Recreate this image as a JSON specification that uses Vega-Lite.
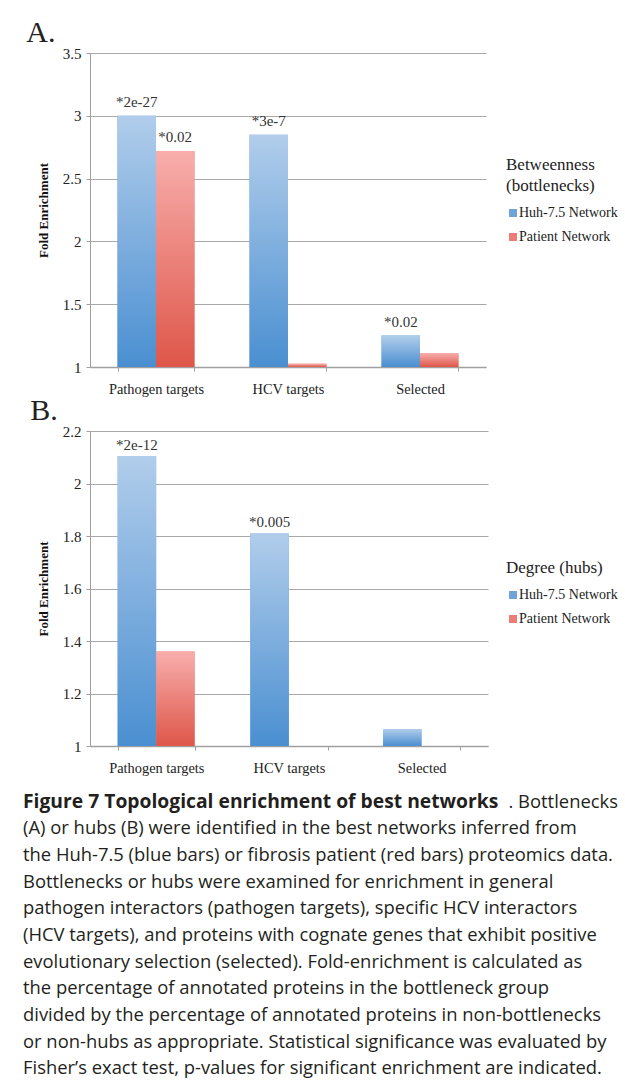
{
  "$schema": "https://vega.github.io/schema/vega-lite/v6.json",
  "background": "white",
  "padding": {"left": 23, "top": 18, "right": 4, "bottom": 4},
  "columns": 1,
  "align": "none",
  "spacing": 0,
  "config": {
    "view": {"stroke": null},
    "font": "Liberation Serif",
    "axis": {
      "labelFont": "Liberation Serif",
      "labelFontSize": 15,
      "labelColor": "#222222",
      "titleFont": "Liberation Serif",
      "titleFontSize": 13,
      "titleFontWeight": "bold",
      "titleColor": "#111111",
      "gridColor": "#a8a8a8",
      "gridOpacity": 1,
      "domainColor": "#a0a0a0",
      "domainWidth": 1.5,
      "tickColor": "#a0a0a0",
      "tickSize": 4
    },
    "legend": {
      "titleFont": "Liberation Serif",
      "titleFontSize": 17,
      "titleFontWeight": "normal",
      "titleColor": "#222222",
      "titleLineHeight": 21,
      "titlePadding": 11,
      "labelFont": "Liberation Serif",
      "labelFontSize": 14,
      "labelColor": "#222222",
      "symbolType": "square",
      "symbolSize": 64,
      "symbolStrokeWidth": 0,
      "rowPadding": 10,
      "labelOffset": -1
    },
    "title": {
      "font": "Liberation Serif",
      "fontSize": 30,
      "fontWeight": "normal",
      "color": "#222222",
      "anchor": "start",
      "frame": "bounds"
    }
  },
  "datasets": {
    "betweenness": [
      {"category": "Pathogen targets", "network": "Huh-7.5 Network", "fold": 3.0, "p": "*2e-27"},
      {"category": "Pathogen targets", "network": "Patient Network", "fold": 2.72, "p": "*0.02"},
      {"category": "HCV targets", "network": "Huh-7.5 Network", "fold": 2.85, "p": "*3e-7"},
      {"category": "HCV targets", "network": "Patient Network", "fold": 1.025, "p": ""},
      {"category": "Selected", "network": "Huh-7.5 Network", "fold": 1.25, "p": "*0.02"},
      {"category": "Selected", "network": "Patient Network", "fold": 1.11, "p": ""}
    ],
    "degree": [
      {"category": "Pathogen targets", "network": "Huh-7.5 Network", "fold": 2.105, "p": "*2e-12"},
      {"category": "Pathogen targets", "network": "Patient Network", "fold": 1.36, "p": ""},
      {"category": "HCV targets", "network": "Huh-7.5 Network", "fold": 1.81, "p": "*0.005"},
      {"category": "HCV targets", "network": "Patient Network", "fold": 1.0, "p": ""},
      {"category": "Selected", "network": "Huh-7.5 Network", "fold": 1.065, "p": ""},
      {"category": "Selected", "network": "Patient Network", "fold": 1.0, "p": ""}
    ],
    "caption": [
      {"line": 1, "bold": "Figure 7 Topological enrichment of best networks", "text": "", "tail": ". Bottlenecks"},
      {"line": 2, "bold": "", "text": "(A) or hubs (B) were identified in the best networks inferred from", "tail": ""},
      {"line": 3, "bold": "", "text": "the Huh-7.5 (blue bars) or fibrosis patient (red bars) proteomics data.", "tail": ""},
      {"line": 4, "bold": "", "text": "Bottlenecks or hubs were examined for enrichment in general", "tail": ""},
      {"line": 5, "bold": "", "text": "pathogen interactors (pathogen targets), specific HCV interactors", "tail": ""},
      {"line": 6, "bold": "", "text": "(HCV targets), and proteins with cognate genes that exhibit positive", "tail": ""},
      {"line": 7, "bold": "", "text": "evolutionary selection (selected). Fold-enrichment is calculated as", "tail": ""},
      {"line": 8, "bold": "", "text": "the percentage of annotated proteins in the bottleneck group", "tail": ""},
      {"line": 9, "bold": "", "text": "divided by the percentage of annotated proteins in non-bottlenecks", "tail": ""},
      {"line": 10, "bold": "", "text": "or non-hubs as appropriate. Statistical significance was evaluated by", "tail": ""},
      {"line": 11, "bold": "", "text": "Fisher’s exact test, p-values for significant enrichment are indicated.", "tail": ""}
    ]
  },
  "resolve": {"scale": {"color": "independent", "y": "independent", "x": "independent"}, "legend": {"color": "independent"}},
  "concat": [
    {
      "title": {"text": "A.", "dx": -11, "offset": -2},
      "width": 396,
      "height": 314,
      "data": {"name": "betweenness"},
      "encoding": {
        "x": {"field": "category", "type": "nominal", "sort": ["Pathogen targets", "HCV targets", "Selected"],
              "scale": {"paddingInner": 0.417, "paddingOuter": 0.2085},
              "axis": {"title": null, "labelAngle": 0, "tickBand": "extent", "labelPadding": 11, "grid": false, "labelFont": "Liberation Serif", "labelFontSize": 14.4}},
        "xOffset": {"field": "network", "type": "nominal", "sort": ["Huh-7.5 Network", "Patient Network"]},
        "y": {"field": "fold", "type": "quantitative",
              "scale": {"domain": [1, 3.5], "zero": false, "nice": false},
              "axis": {"title": "Fold Enrichment", "values": [1, 1.5, 2, 2.5, 3, 3.5], "format": "~g", "labelPadding": 5, "titlePadding": 12, "domainWidth": 1, "labelFont": "Liberation Serif"}}
      },
      "layer": [
        {
          "mark": {"type": "bar"},
          "encoding": {
            "y2": {"datum": 1},
            "color": {"field": "network", "type": "nominal",
              "scale": {"domain": ["Huh-7.5 Network", "Patient Network"], "range": ["#6fa3da", "#eb7d76"]},
              "legend": {"title": ["Betweenness", "(bottlenecks)"], "orient": "none", "legendX": 416, "legendY": 104, "labelFont": "Liberation Serif", "titleFont": "Liberation Serif"}}
          }
        },
        {
          "mark": {"type": "bar"},
          "encoding": {
            "y2": {"datum": 1},
            "color": {"condition": {"test": {"field": "network", "equal": "Huh-7.5 Network"},
                "value": {"gradient": "linear", "x1": 0, "y1": 0, "x2": 0, "y2": 1, "stops": [{"offset": 0, "color": "#b1cdeb"}, {"offset": 1, "color": "#4a8fd1"}]}},
              "value": {"gradient": "linear", "x1": 0, "y1": 0, "x2": 0, "y2": 1, "stops": [{"offset": 0, "color": "#f8aeac"}, {"offset": 1, "color": "#de5649"}]}}
          }
        },
        {
          "mark": {"type": "text", "baseline": "bottom", "dy": -6, "fontSize": 15, "color": "#333333", "font": "Liberation Serif"},
          "encoding": {"text": {"field": "p"}}
        }
      ]
    },
    {
      "title": {"text": "B.", "dx": -7, "offset": -2},
      "width": 398,
      "height": 315,
      "data": {"name": "degree"},
      "encoding": {
        "x": {"field": "category", "type": "nominal", "sort": ["Pathogen targets", "HCV targets", "Selected"],
              "scale": {"paddingInner": 0.417, "paddingOuter": 0.2085},
              "axis": {"title": null, "labelAngle": 0, "tickBand": "extent", "labelPadding": 11, "grid": false, "labelFont": "Liberation Serif", "labelFontSize": 14.4}},
        "xOffset": {"field": "network", "type": "nominal", "sort": ["Huh-7.5 Network", "Patient Network"]},
        "y": {"field": "fold", "type": "quantitative",
              "scale": {"domain": [1, 2.2], "zero": false, "nice": false},
              "axis": {"title": "Fold Enrichment", "values": [1, 1.2, 1.4, 1.6, 1.8, 2, 2.2], "format": "~g", "labelPadding": 5, "titlePadding": 12, "domainWidth": 1, "labelFont": "Liberation Serif"}}
      },
      "layer": [
        {
          "mark": {"type": "bar"},
          "encoding": {
            "y2": {"datum": 1},
            "color": {"field": "network", "type": "nominal",
              "scale": {"domain": ["Huh-7.5 Network", "Patient Network"], "range": ["#6fa3da", "#eb7d76"]},
              "legend": {"title": "Degree (hubs)", "orient": "none", "legendX": 416, "legendY": 129, "labelFont": "Liberation Serif", "titleFont": "Liberation Serif"}}
          }
        },
        {
          "mark": {"type": "bar"},
          "encoding": {
            "y2": {"datum": 1},
            "color": {"condition": {"test": {"field": "network", "equal": "Huh-7.5 Network"},
                "value": {"gradient": "linear", "x1": 0, "y1": 0, "x2": 0, "y2": 1, "stops": [{"offset": 0, "color": "#b1cdeb"}, {"offset": 1, "color": "#4a8fd1"}]}},
              "value": {"gradient": "linear", "x1": 0, "y1": 0, "x2": 0, "y2": 1, "stops": [{"offset": 0, "color": "#f8aeac"}, {"offset": 1, "color": "#de5649"}]}}
          }
        },
        {
          "mark": {"type": "text", "baseline": "bottom", "dy": -3, "fontSize": 15, "color": "#333333", "font": "Liberation Serif"},
          "encoding": {"text": {"field": "p"}}
        }
      ]
    },
    {
      "width": 528,
      "height": 320,
      "data": {"name": "caption"},
      "encoding": {
        "y": {"field": "line", "type": "ordinal", "axis": null, "scale": {"type": "point", "padding": 1.1}}
      },
      "layer": [
        {
          "mark": {"type": "text", "align": "left", "baseline": "middle", "font": "Open Sans", "fontSize": 19.3, "fontWeight": "bold", "color": "#231f20"},
          "encoding": {"x": {"datum": 0, "type": "quantitative", "scale": {"domain": [0, 1], "range": [-67, 528]}, "axis": null}, "text": {"field": "bold"}}
        },
        {
          "mark": {"type": "text", "align": "left", "baseline": "middle", "font": "Open Sans", "fontSize": 18.4, "color": "#231f20"},
          "encoding": {"x": {"datum": 0, "type": "quantitative"}, "text": {"field": "text"}}
        },
        {
          "mark": {"type": "text", "align": "right", "baseline": "middle", "font": "Open Sans", "fontSize": 18.4, "color": "#231f20"},
          "encoding": {"x": {"datum": 1, "type": "quantitative"}, "text": {"field": "tail"}}
        }
      ]
    }
  ]
}
